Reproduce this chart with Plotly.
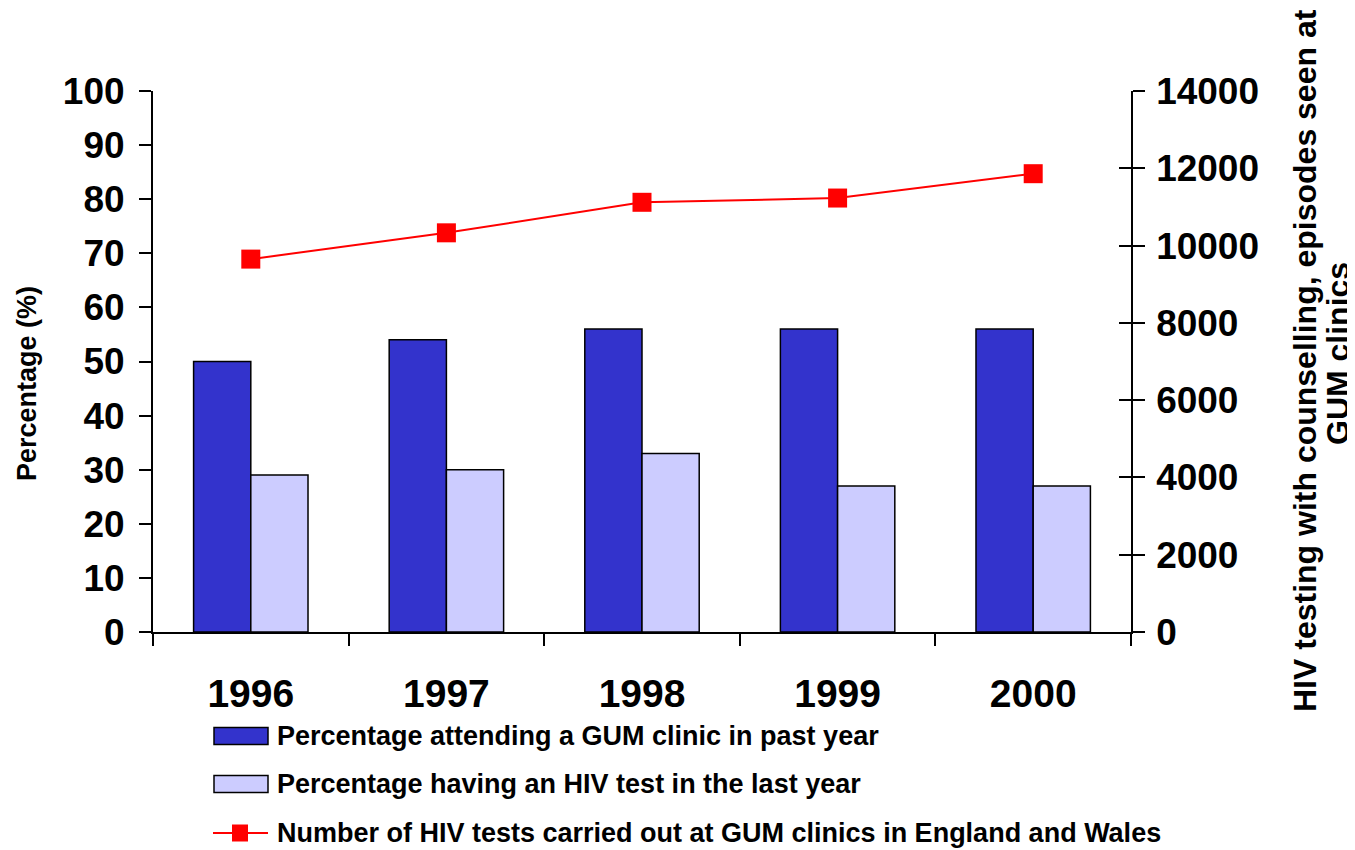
import plotly.graph_objects as go

years = ["1996", "1997", "1998", "1999", "2000"]
pct_gum = [50, 54, 56, 56, 56]
pct_hiv_test = [29, 30, 33, 27, 27]
hiv_tests = [9650, 10330, 11120, 11230, 11860]

legend_names = [
    "Percentage attending a GUM clinic in past year",
    "Percentage having an HIV test in the last year",
    "Number of HIV tests carried out at GUM clinics in England and Wales",
]
right_title = ["HIV testing with counselling, episodes seen at", "GUM clinics"]

DARK = "#3333CC"
LIGHT = "#CCCCFF"
RED = "#FF0000"
FONT = "Liberation Sans, Arial, sans-serif"

# page coordinates of the target picture; the page body adds an 8px offset
W, H = 1355, 850
OFF = 8
L, R, T, B = 153, 1131, 91, 632


def px_x(px):
    return (px - L) / (R - L)


def px_y(py):
    return (B - py) / (B - T)


fig = go.Figure()

fig.add_trace(go.Bar(
    x=years, y=pct_gum, name=legend_names[0],
    marker=dict(color=DARK, line=dict(color="black", width=1.5)),
))
fig.add_trace(go.Bar(
    x=years, y=pct_hiv_test, name=legend_names[1],
    marker=dict(color=LIGHT, line=dict(color="black", width=1.5)),
))
fig.add_trace(go.Scatter(
    x=years, y=hiv_tests, name=legend_names[2], yaxis="y2",
    mode="lines+markers",
    line=dict(color=RED, width=2),
    marker=dict(symbol="square", size=19, color=RED),
))
# invisible trace so the crossing tick marks of the right axis get drawn
fig.add_trace(go.Scatter(x=years, y=hiv_tests, yaxis="y3", mode="none",
                         hoverinfo="skip", showlegend=False))

tick_font = dict(family=FONT, size=37, color="black", weight="bold")

fig.update_layout(
    width=W - OFF, height=H - OFF,
    margin=dict(l=L - OFF, r=W - R, t=T - OFF, b=H - B, autoexpand=False),
    paper_bgcolor="white", plot_bgcolor="white",
    showlegend=False,
    barmode="group", bargap=0.415, bargroupgap=0,
    font=dict(family=FONT, color="black"),
    xaxis=dict(
        type="category", automargin=False,
        showline=True, linecolor="black", linewidth=2,
        ticks="outside", ticklen=12, tickwidth=2, tickcolor="black",
        tickson="boundaries",
        tickfont=dict(family=FONT, size=39, color="black", weight="bold"),
        ticklabelstandoff=26,
        showgrid=False, zeroline=False,
    ),
    yaxis=dict(
        range=[0, 100], tickvals=list(range(0, 101, 10)), automargin=False,
        showline=True, linecolor="black", linewidth=2,
        ticks="outside", ticklen=12, tickwidth=2, tickcolor="black",
        tickfont=tick_font, ticklabelstandoff=7,
        showgrid=False, zeroline=False,
    ),
    yaxis2=dict(
        range=[0, 14000], tickvals=list(range(0, 14001, 2000)),
        tickformat="d", automargin=False,
        overlaying="y", side="right", anchor="x",
        showline=True, linecolor="black", linewidth=1.5,
        ticks="outside", ticklen=12, tickwidth=2, tickcolor="black",
        tickfont=tick_font, ticklabelstandoff=4,
        showgrid=False, zeroline=False,
    ),
    yaxis3=dict(
        range=[0, 14000], tickvals=list(range(0, 14001, 2000)), automargin=False,
        overlaying="y", side="right", anchor="x",
        showline=False, showticklabels=False,
        ticks="inside", ticklen=12, tickwidth=2, tickcolor="black",
        showgrid=False, zeroline=False,
    ),
)

fig.add_annotation(
    text="Percentage (%)", textangle=-90, showarrow=False,
    xref="paper", yref="paper", x=px_x(27), y=px_y(384),
    xanchor="center", yanchor="middle",
    font=dict(family=FONT, size=27, color="black", weight="bold"),
)
for txt, cx, cy in zip(right_title, [1305, 1338], [361, 354]):
    fig.add_annotation(
        text=txt, textangle=-90, showarrow=False,
        xref="paper", yref="paper", x=px_x(cx), y=px_y(cy),
        xanchor="center", yanchor="middle",
        font=dict(family=FONT, size=32, color="black", weight="bold"),
    )

# manual legend below the plot
legend_font = dict(family=FONT, size=27, color="black", weight="bold")
rows = [736, 784, 833]
for i, (name, cy) in enumerate(zip(legend_names, rows)):
    if i < 2:
        fig.add_shape(
            type="rect", xref="paper", yref="paper",
            x0=px_x(214), x1=px_x(268), y0=px_y(cy - 8.5), y1=px_y(cy + 8.5),
            fillcolor=[DARK, LIGHT][i], line=dict(color="black", width=1.5),
        )
    else:
        fig.add_shape(
            type="line", xref="paper", yref="paper",
            x0=px_x(213), x1=px_x(268), y0=px_y(cy), y1=px_y(cy),
            line=dict(color=RED, width=2),
        )
        fig.add_shape(
            type="rect", xref="paper", yref="paper",
            x0=px_x(232), x1=px_x(248), y0=px_y(cy - 8.5), y1=px_y(cy + 8.5),
            fillcolor=RED, line=dict(color=RED, width=0),
        )
    fig.add_annotation(
        text=name, showarrow=False, xref="paper", yref="paper",
        x=px_x(275), y=px_y(cy), xanchor="left", yanchor="middle",
        font=legend_font,
    )

fig.write_html("out.html")
